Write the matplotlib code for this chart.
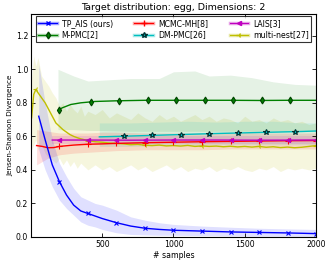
import matplotlib
matplotlib.use("Agg")
import matplotlib.pyplot as plt
from matplotlib.lines import Line2D
import numpy as np

plt.rcParams['font.family'] = ['DejaVu Sans']

# ---------------- data ----------------
# TP_AIS (ours)
tp_x = [55, 100, 150, 200, 250, 300, 350, 400, 450, 500, 600, 700, 800, 900, 1000, 1200, 1400, 1600, 1800, 2000]
tp_mean = [0.72, 0.58, 0.43, 0.33, 0.25, 0.19, 0.155, 0.14, 0.125, 0.11, 0.085, 0.065, 0.052, 0.045, 0.04, 0.035, 0.03, 0.027, 0.024, 0.02]
tp_up = [1.03, 0.80, 0.58, 0.44, 0.36, 0.29, 0.24, 0.22, 0.20, 0.19, 0.16, 0.12, 0.10, 0.085, 0.075, 0.065, 0.058, 0.052, 0.048, 0.045]
tp_lo = [0.52, 0.40, 0.30, 0.22, 0.17, 0.13, 0.09, 0.07, 0.06, 0.045, 0.025, 0.015, 0.012, 0.01, 0.01, 0.008, 0.006, 0.005, 0.004, 0.003]
tp_mk = [200, 400, 600, 800, 1000, 1200, 1400, 1600, 1800, 2000]

# MCMC-MH
mh_x = [40, 80, 120, 160, 200, 300, 400, 500, 600, 800, 1000, 1200, 1400, 1600, 1800, 2000]
mh_mean = [0.545, 0.54, 0.532, 0.533, 0.54, 0.548, 0.553, 0.555, 0.558, 0.562, 0.565, 0.568, 0.57, 0.572, 0.574, 0.575]
mh_up = [0.64, 0.635, 0.63, 0.625, 0.62, 0.62, 0.62, 0.625, 0.625, 0.62, 0.62, 0.62, 0.625, 0.62, 0.62, 0.62]
mh_lo = [0.43, 0.45, 0.47, 0.48, 0.49, 0.50, 0.505, 0.51, 0.515, 0.52, 0.52, 0.52, 0.525, 0.525, 0.525, 0.525]
mh_mk = [200, 400, 600, 800, 1000, 1200, 1400, 1600, 1800, 2000]

# LAIS
la_x = [150, 400, 700, 1000, 1300, 1600, 2000]
la_mean = [0.578, 0.578, 0.577, 0.578, 0.578, 0.577, 0.578]
la_up = [0.60, 0.60, 0.60, 0.60, 0.60, 0.60, 0.60]
la_lo = [0.555, 0.555, 0.555, 0.555, 0.555, 0.555, 0.555]
la_mk = [200, 400, 600, 800, 1000, 1200, 1400, 1600, 1800, 2000]

# M-PMC
mp_x = [190, 220, 280, 350, 450, 600, 800, 1000, 1200, 1400, 1600, 1800, 2000]
mp_mean = [0.755, 0.77, 0.79, 0.80, 0.808, 0.812, 0.815, 0.815, 0.815, 0.815, 0.814, 0.815, 0.815]
mp_bx = [190, 300, 400, 500, 700, 900, 1000, 1150, 1250, 1400, 1550, 1700, 1850, 2000]
mp_up = [1.0, 0.96, 0.93, 0.935, 0.945, 0.945, 0.985, 0.99, 0.96, 0.965, 0.95, 0.925, 0.91, 0.905]
mp_lo = [0.64, 0.64, 0.635, 0.635, 0.63, 0.63, 0.63, 0.63, 0.63, 0.63, 0.63, 0.63, 0.63, 0.63]
mp_mk = [200, 420, 620, 820, 1020, 1220, 1420, 1620, 1820]

# DM-PMC
dm_x = [480, 700, 900, 1100, 1300, 1500, 1700, 1900, 2000]
dm_mean = [0.597, 0.602, 0.607, 0.612, 0.617, 0.621, 0.625, 0.629, 0.632]
dm_up = [0.68, 0.68, 0.685, 0.69, 0.685, 0.69, 0.69, 0.68, 0.68]
dm_lo = [0.54, 0.54, 0.545, 0.545, 0.55, 0.55, 0.55, 0.55, 0.55]
dm_mk = [650, 850, 1050, 1250, 1450, 1650, 1850]

# multi-nest
mn_x = [5, 20, 35, 50, 75, 100, 125, 150, 175, 200, 225, 250, 275, 300, 325, 350, 375, 400,
        450, 500, 550, 600, 650, 700, 750, 800, 850, 900, 950, 1000, 1050, 1100, 1150, 1200,
        1250, 1300, 1350, 1400, 1450, 1500, 1550, 1600, 1650, 1700, 1750, 1800, 1850, 1900, 1950, 2000]
mn_mean = [0.71, 0.85, 0.88, 0.86, 0.83, 0.80, 0.76, 0.72, 0.68, 0.66, 0.64, 0.625, 0.61, 0.60, 0.592, 0.585, 0.58, 0.575,
           0.568, 0.565, 0.56, 0.558, 0.555, 0.55, 0.552, 0.547, 0.545, 0.548, 0.543, 0.545, 0.542, 0.546, 0.54, 0.543,
           0.54, 0.542, 0.538, 0.541, 0.537, 0.54, 0.536, 0.54, 0.535, 0.538, 0.533, 0.536, 0.532, 0.535, 0.54, 0.545]
mn_up = [0.95, 1.08, 1.02, 1.07, 0.96, 0.93, 0.90, 0.86, 0.83, 0.78, 0.80, 0.75, 0.79, 0.76, 0.74, 0.78, 0.72, 0.75,
         0.73, 0.76, 0.71, 0.74, 0.72, 0.70, 0.74, 0.71, 0.69, 0.73, 0.70, 0.72, 0.69, 0.71, 0.73, 0.70,
         0.72, 0.69, 0.71, 0.70, 0.68, 0.72, 0.69, 0.70, 0.68, 0.71, 0.69, 0.70, 0.68, 0.69, 0.67, 0.68]
mn_lo = [0.52, 0.55, 0.58, 0.52, 0.55, 0.50, 0.47, 0.46, 0.44, 0.47, 0.43, 0.46, 0.42, 0.45, 0.41, 0.44, 0.42, 0.40,
         0.43, 0.40, 0.42, 0.39, 0.41, 0.43, 0.40, 0.42, 0.39, 0.41, 0.43, 0.40, 0.42, 0.39, 0.41, 0.40,
         0.42, 0.39, 0.41, 0.40, 0.42, 0.40, 0.39, 0.41, 0.40, 0.42, 0.39, 0.41, 0.40, 0.41, 0.40, 0.41]
mn_mk = [35, 400, 800, 1200, 1600, 2000]

labels = ['TP_AIS (ours)', 'M-PMC[2]', 'MCMC-MH[8]', 'DM-PMC[26]', 'LAIS[3]', 'multi-nest[27]']

# ---------------- plot ----------------
fig = plt.figure(figsize=(3.32, 2.63), dpi=100)
ax = fig.add_axes([0.093, 0.099, 0.859, 0.848])

def series(x, m, lo, up, mk, color, marker, ms, bx=None, fill_alpha=0.15, mec=None):
    bx = x if bx is None else bx
    ax.fill_between(bx, lo, up, color=color, alpha=fill_alpha, linewidth=0)
    ax.plot(x, m, color=color, linewidth=1.0)
    ax.plot(mk, np.interp(mk, x, m), linestyle='none', marker=marker, color=color,
            markersize=ms, markeredgecolor=(mec or color), markeredgewidth=0.8)

series(mn_x, mn_mean, mn_lo, mn_up, mn_mk, 'y', '3', 4, fill_alpha=0.13)
series(mp_x, mp_mean, mp_lo, mp_up, mp_mk, 'g', 'd', 3.5, bx=mp_bx, fill_alpha=0.1, mec='#004400')
series(dm_x, dm_mean, dm_lo, dm_up, dm_mk, 'c', '*', 4, fill_alpha=0.12, mec='#003333')
series(mh_x, mh_mean, mh_lo, mh_up, mh_mk, 'r', '+', 4, fill_alpha=0.12)
series(la_x, la_mean, la_lo, la_up, la_mk, 'm', '<', 3, fill_alpha=0.12)
series(tp_x, tp_mean, tp_lo, tp_up, tp_mk, 'b', 'x', 3, fill_alpha=0.12)

handles = []
for c, mkr, ms, mec in [('b', 'x', 3, 'b'), ('g', 'd', 3.5, '#004400'), ('r', '+', 4, 'r'),
                        ('c', '*', 4, '#003333'), ('m', '<', 3, 'm'), ('y', '3', 4, 'y')]:
    h1 = Line2D([], [], color=c, alpha=0.35, linewidth=2.5)
    h2 = Line2D([], [], color=c, linewidth=0.8, marker=mkr, markersize=ms,
                markeredgecolor=mec)
    handles.append((h1, h2))

leg = ax.legend(handles, labels, ncol=3, loc='upper center', fontsize=5.6,
                frameon=True, fancybox=False, borderaxespad=0.3, handlelength=2.4,
                columnspacing=2.8, handletextpad=0.6, labelspacing=0.3,
                borderpad=0.35, bbox_to_anchor=(0.5, 1.0))
leg.get_frame().set_edgecolor('k')
leg.get_frame().set_linewidth(0.8)

ax.set_xlim(0, 2000)
ax.set_ylim(0, 1.33)
ax.set_xticks([500, 1000, 1500, 2000])
ax.set_yticks([0.0, 0.2, 0.4, 0.6, 0.8, 1.0, 1.2])
ax.tick_params(direction='in', top=True, right=True, labelsize=5.6, length=3, width=0.6, pad=2)
for s in ax.spines.values():
    s.set_linewidth(0.8)
ax.set_xlabel('# samples', fontsize=5.6, labelpad=1.5)
ax.set_ylabel('Jensen-Shannon Divergence', fontsize=5.2, labelpad=2)
ax.set_title('Target distribution: egg, Dimensions: 2', fontsize=6.8, pad=2.5)

fig.savefig('out.png', dpi=100, facecolor='white')
